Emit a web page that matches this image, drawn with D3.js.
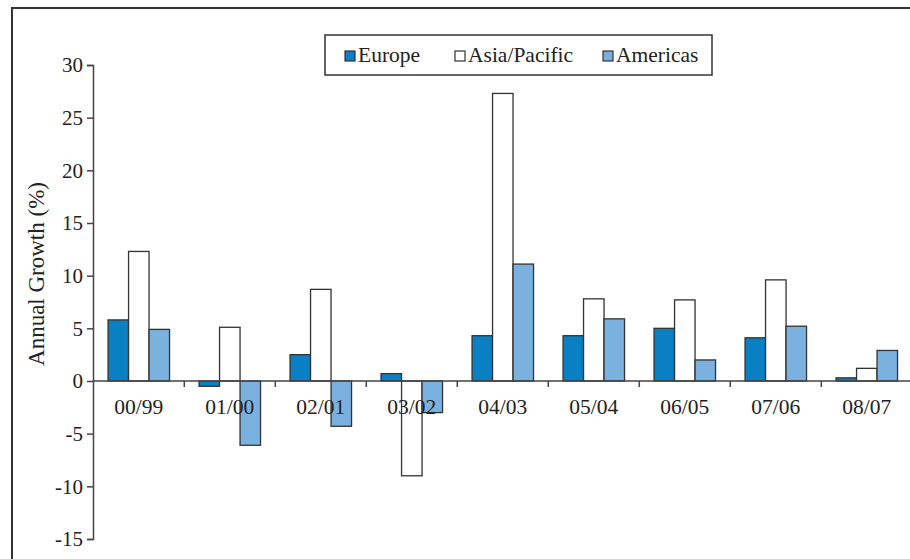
<!DOCTYPE html>
<html>
<head>
<meta charset="utf-8">
<script src="https://cdn.jsdelivr.net/npm/d3@7"></script>
<style>
html,body{margin:0;padding:0;background:#fff;}
svg{display:block;font-family:"Liberation Serif","Times New Roman",serif;}
</style>
</head>
<body>
<svg id="chart" width="910" height="559"></svg>
<script>
const categories = ["00/99","01/00","02/01","03/02","04/03","05/04","06/05","07/06","08/07"];
const seriesNames = ["Europe","Asia/Pacific","Americas"];
const europe  = [5.8, -0.5, 2.5, 0.7, 4.3, 4.3, 5.0, 4.1, 0.3];
const asia    = [12.3, 5.1, 8.7, -9.0, 27.3, 7.8, 7.7, 9.6, 1.2];
const americas= [4.9, -6.1, -4.3, -3.0, 11.1, 5.9, 2.0, 5.2, 2.9];
const yTicks = [-15,-10,-5,0,5,10,15,20,25,30];
const seriesValues = [europe, asia, americas];
const colors = ["#0a80c4", "#ffffff", "#7ab1df"];

const svg = d3.select("#chart");

// outer frame
svg.append("rect").attr("x",12).attr("y",8).attr("width",1000).attr("height",1000)
  .attr("fill","none").attr("stroke","#333").attr("stroke-width",2);

const y = d3.scaleLinear().domain([-15,30]).range([539,65]);
const x0 = d3.scaleBand().domain(categories).range([93.3, 912.3]).padding(0);
const x1 = d3.scaleBand().domain(seriesNames).range([0, x0.bandwidth()]).paddingInner(0).paddingOuter(0.72);

// bars
const groups = svg.append("g").selectAll("g").data(categories).join("g")
  .attr("transform", d => `translate(${x0(d)},0)`);
groups.selectAll("rect").data((d,i) => seriesNames.map((s,j) => ({s, j, v: seriesValues[j][i]})))
  .join("rect")
  .attr("x", d => x1(d.s))
  .attr("width", x1.bandwidth())
  .attr("y", d => y(Math.max(0, d.v)))
  .attr("height", d => Math.abs(y(d.v) - y(0)))
  .attr("fill", d => colors[d.j])
  .attr("stroke", "#333")
  .attr("stroke-width", 1.3);

// y axis
const yAxis = d3.axisLeft(y).tickValues(yTicks).tickSize(6).tickPadding(4).tickFormat(d => String(d));
const gy = svg.append("g").attr("transform","translate(93,0)").call(yAxis);
gy.select(".domain").attr("stroke","#444").attr("stroke-width",1.5);
gy.selectAll(".tick line").attr("stroke","#444").attr("stroke-width",1.5);
gy.selectAll(".tick text").attr("font-size","21px").attr("fill","#222")
  .attr("font-family","'Liberation Serif','Times New Roman',serif");

// x axis at zero
const gx = svg.append("g");
gx.append("line").attr("x1",93).attr("x2",912).attr("y1",y(0)).attr("y2",y(0))
  .attr("stroke","#444").attr("stroke-width",1.5);
gx.selectAll("line.t").data(categories.slice(1)).join("line").attr("class","t")
  .attr("x1", d => x0(d)).attr("x2", d => x0(d))
  .attr("y1", y(0)).attr("y2", y(0)+6)
  .attr("stroke","#444").attr("stroke-width",1.5);
gx.selectAll("text").data(categories).join("text")
  .attr("x", d => x0(d) + x0.bandwidth()/2)
  .attr("y", y(0) + 33)
  .attr("text-anchor","middle")
  .attr("font-size","21.5px").attr("fill","#222")
  .text(d => d);

// y title
svg.append("text")
  .attr("transform","translate(44,274) rotate(-90)")
  .attr("text-anchor","middle")
  .attr("font-size","23px").attr("fill","#222")
  .text("Annual Growth (%)");

// legend
const lg = svg.append("g");
lg.append("rect").attr("x",325).attr("y",35).attr("width",387).attr("height",40)
  .attr("fill","#fff").attr("stroke","#333").attr("stroke-width",1.5);
const legendX = [345, 455, 603];
seriesNames.forEach((s,j) => {
  lg.append("rect").attr("x",legendX[j]).attr("y",51).attr("width",10).attr("height",10)
    .attr("fill",colors[j]).attr("stroke","#333").attr("stroke-width",1.2);
  lg.append("text").attr("x",legendX[j]+13).attr("y",62)
    .attr("font-size","21.5px").attr("fill","#222").text(s);
});
</script>
</body>
</html>
